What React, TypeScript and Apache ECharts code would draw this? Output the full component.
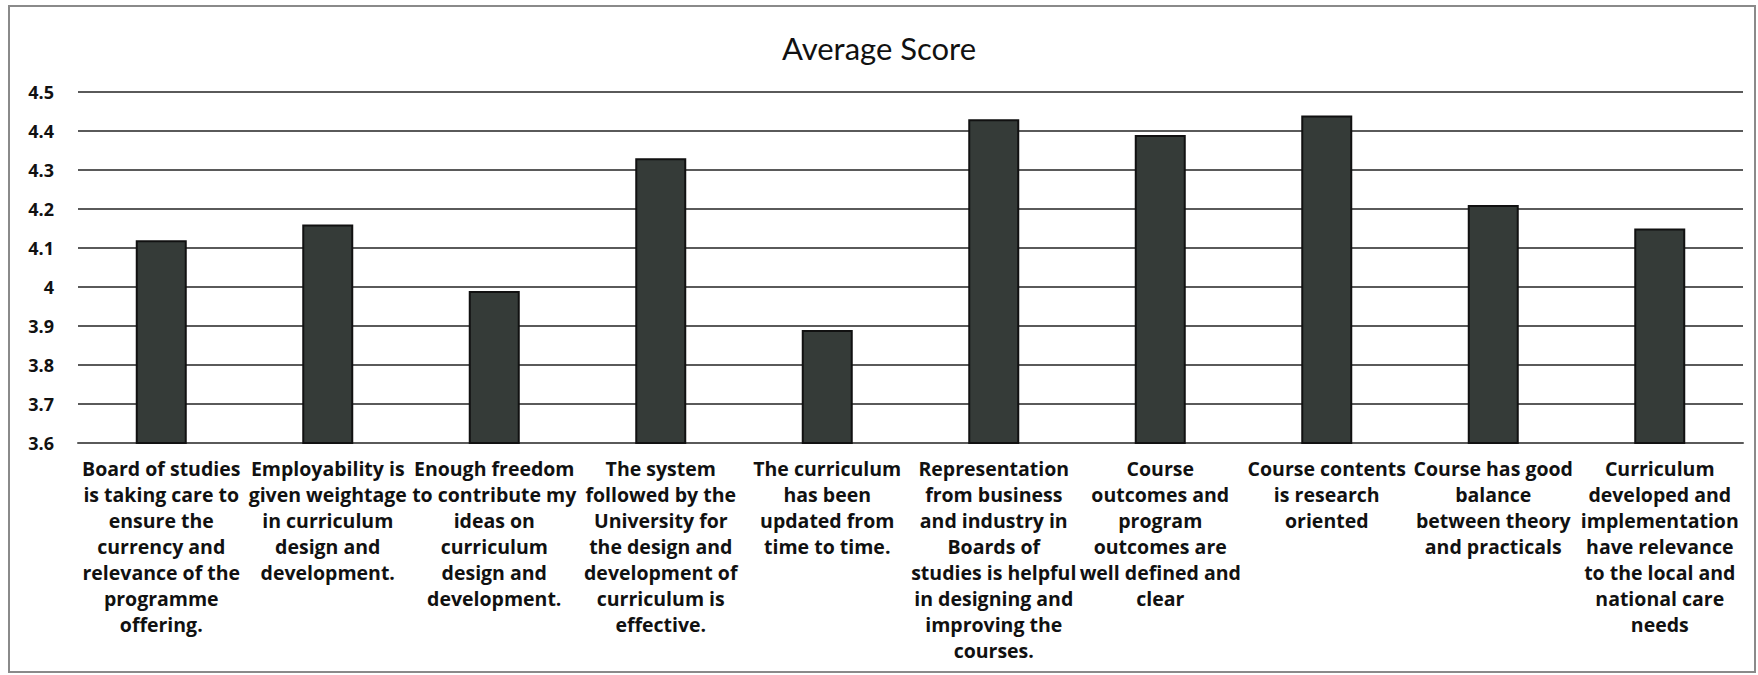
import React, { useEffect, useRef } from "react";
import * as echarts from "echarts";

const categories: string[] = [
  "Board of studies\nis taking care to\nensure the\ncurrency and\nrelevance of the\nprogramme\noffering.",
  "Employability is\ngiven weightage\nin curriculum\ndesign and\ndevelopment.",
  "Enough freedom\nto contribute my\nideas on\ncurriculum\ndesign and\ndevelopment.",
  "The system\nfollowed by the\nUniversity for\nthe design and\ndevelopment of\ncurriculum is\neffective.",
  "The curriculum\nhas been\nupdated from\ntime to time.",
  "Representation\nfrom business\nand industry in\nBoards of\nstudies is helpful\nin designing and\nimproving the\ncourses.",
  "Course\noutcomes and\nprogram\noutcomes are\nwell defined and\nclear",
  "Course contents\nis research\noriented",
  "Course has good\nbalance\nbetween theory\nand practicals",
  "Curriculum\ndeveloped and\nimplementation\nhave relevance\nto the local and\nnational care\nneeds",
];

const averageScores: number[] = [4.12, 4.16, 3.99, 4.33, 3.89, 4.43, 4.39, 4.44, 4.21, 4.15];

const chartTitle = "Average Score";
const yMin = 3.6;
const yMax = 4.5;
const yStep = 0.1;

const TITLE_FONT = "Lato, 'Open Sans', sans-serif";
const LABEL_FONT = "'Open Sans', Lato, sans-serif";

export default function App() {
  const ref = useRef<HTMLDivElement>(null);

  useEffect(() => {
    document.body.style.margin = "0";
    if (!ref.current) return;
    const chart = echarts.init(ref.current, null, { renderer: "svg" });
    chart.setOption({
      animation: false,
      backgroundColor: "#ffffff",
      title: {
        text: chartTitle,
        left: "center",
        top: 27,
        textStyle: { fontFamily: TITLE_FONT, fontSize: 31, fontWeight: "normal", color: "#111" },
      },
      graphic: [
        {
          type: "rect",
          shape: { x: 9, y: 6, width: 1746, height: 666 },
          style: { fill: "none", stroke: "#8a8a8a", lineWidth: 2 },
          silent: true,
        },
      ],
      grid: { left: 78, right: 15, top: 92, bottom: 232, containLabel: false },
      xAxis: {
        type: "category",
        data: categories,
        axisLine: { show: true, lineStyle: { color: "#5a5a5a", width: 2 } },
        axisTick: { show: false },
        axisLabel: {
          interval: 0,
          margin: 12,
          fontFamily: LABEL_FONT,
          fontSize: 19.5,
          fontWeight: "bold",
          lineHeight: 26,
          color: "#111",
          align: "center",
        },
      },
      yAxis: {
        type: "value",
        min: yMin,
        max: yMax,
        interval: yStep,
        axisLine: { show: false },
        axisTick: { show: false },
        axisLabel: {
          margin: 24,
          fontFamily: LABEL_FONT,
          fontSize: 18,
          fontWeight: "bold",
          color: "#111",
          formatter: (v: number) => String(Math.round(v * 10) / 10),
        },
        splitLine: { show: true, lineStyle: { color: "#5a5a5a", width: 2 } },
      },
      series: [
        {
          type: "bar",
          data: averageScores,
          barWidth: 51,
          itemStyle: { color: "#353b38", borderColor: "#111", borderWidth: 2 },
        },
      ],
    });
    return () => chart.dispose();
  }, []);

  return <div ref={ref} style={{ width: 1758, height: 675 }} />;
}
